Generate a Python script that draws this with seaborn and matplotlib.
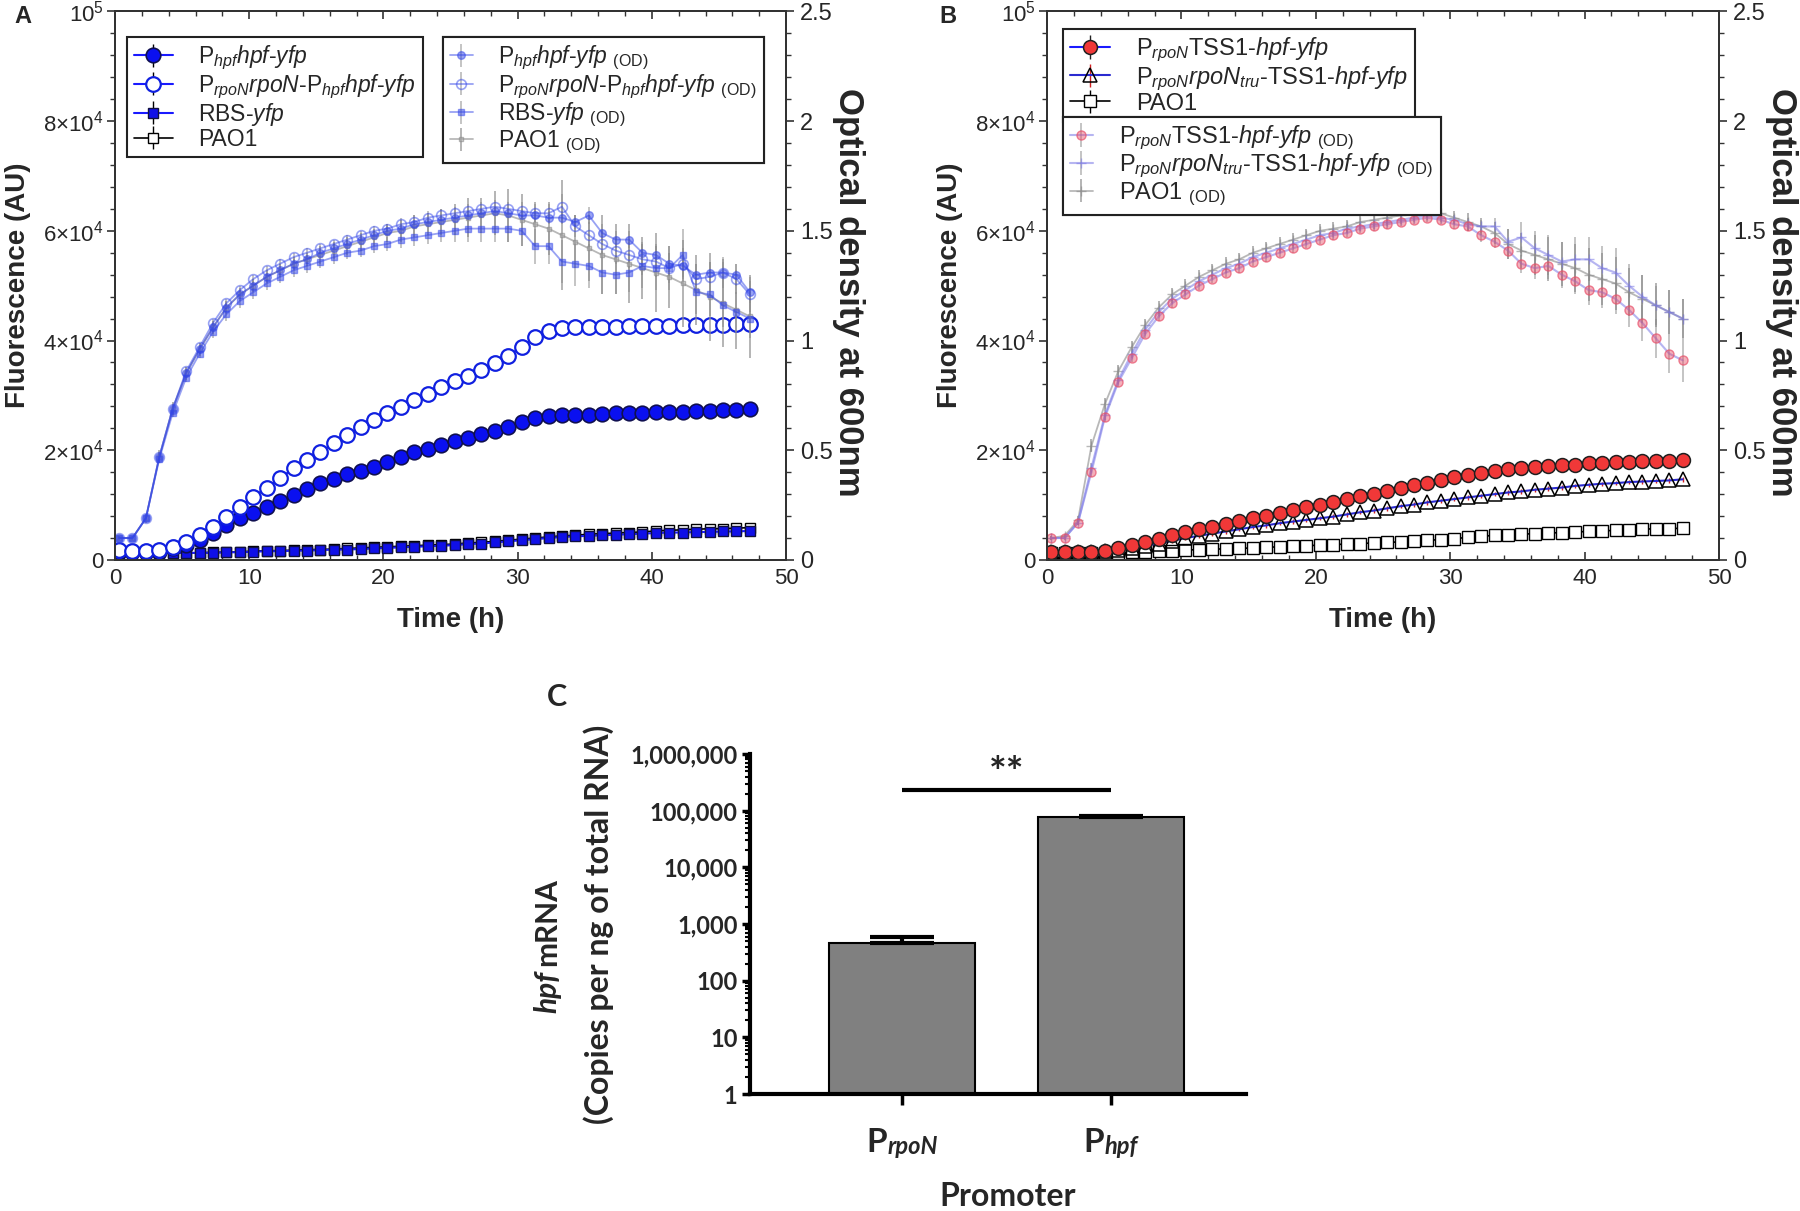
import numpy as np
import pandas as pd
import seaborn as sns
import matplotlib
matplotlib.use("Agg")
import matplotlib.pyplot as plt
from matplotlib.ticker import MultipleLocator, LogLocator, NullFormatter
from matplotlib.colors import to_rgba

# ---------------- data ----------------
TIME_H = np.arange(48) + 0.3

# panel A, fluorescence (AU)
A_HPF_FL = [1500, 1500, 1500, 1500, 2100, 2700, 3600, 4900, 6400, 7600, 8500, 9700, 10800, 11800,
            12900, 14000, 14700, 15700, 16300, 17000, 17900, 18700, 19600, 20200, 21000, 21600, 22200,
            23000, 23600, 24300, 25100, 25800, 26300, 26400, 26500, 26500, 26600, 26700, 26700, 26800,
            26900, 26900, 27000, 27100, 27200, 27300, 27400, 27500]
A_RPON_FL = [1800, 1700, 1700, 1800, 2300, 3300, 4600, 6100, 7900, 9700, 11500, 13200, 14900, 16700,
             18200, 19700, 21300, 22800, 24300, 25500, 26700, 27900, 29200, 30300, 31500, 32600, 33600,
             34700, 35900, 37200, 38900, 40600, 41800, 42200, 42400, 42400, 42500, 42500, 42600, 42600,
             42700, 42700, 42800, 42800, 42900, 42900, 43000, 43000]
A_RBS_FL = [1300, 1300, 1300, 1300, 1300, 1300, 1300, 1300, 1400, 1400, 1500, 1600, 1600, 1700, 1700,
            1800, 1900, 1900, 2000, 2100, 2200, 2300, 2400, 2500, 2600, 2700, 2900, 3000, 3200, 3400,
            3600, 3800, 4000, 4200, 4300, 4400, 4500, 4600, 4700, 4800, 4900, 5000, 5000, 5100, 5100,
            5200, 5200, 5300]
A_PAO1_FL = [1300, 1300, 1300, 1300, 1300, 1300, 1300, 1400, 1400, 1500, 1600, 1700, 1700, 1800, 1900,
             1900, 2000, 2100, 2200, 2300, 2400, 2500, 2600, 2700, 2800, 2900, 3100, 3200, 3400, 3600,
             3800, 4000, 4200, 4400, 4500, 4700, 4800, 4900, 5000, 5100, 5300, 5400, 5500, 5600, 5700,
             5700, 5800, 5900]

# panel A, optical density
A_HPF_OD = [0.10, 0.10, 0.19, 0.47, 0.69, 0.85, 0.96, 1.06, 1.15, 1.21, 1.25, 1.29, 1.32, 1.35, 1.37,
            1.40, 1.42, 1.44, 1.46, 1.48, 1.50, 1.51, 1.53, 1.54, 1.55, 1.56, 1.57, 1.58, 1.59, 1.58,
            1.57, 1.57, 1.56, 1.56, 1.54, 1.57, 1.49, 1.46, 1.46, 1.40, 1.39, 1.35, 1.34, 1.30, 1.31,
            1.31, 1.30, 1.22]
A_RPON_OD = [0.10, 0.10, 0.19, 0.47, 0.69, 0.86, 0.97, 1.08, 1.17, 1.23, 1.28, 1.32, 1.35, 1.38, 1.40,
             1.42, 1.44, 1.46, 1.48, 1.50, 1.51, 1.53, 1.54, 1.56, 1.57, 1.58, 1.59, 1.60, 1.61, 1.60,
             1.59, 1.58, 1.58, 1.61, 1.52, 1.48, 1.44, 1.41, 1.39, 1.37, 1.36, 1.33, 1.35, 1.28, 1.29,
             1.31, 1.28, 1.21]
A_RBS_OD = [0.10, 0.10, 0.19, 0.46, 0.67, 0.83, 0.94, 1.04, 1.12, 1.18, 1.22, 1.26, 1.29, 1.32, 1.34,
            1.36, 1.38, 1.40, 1.41, 1.43, 1.44, 1.46, 1.47, 1.48, 1.49, 1.50, 1.51, 1.51, 1.51, 1.51,
            1.50, 1.43, 1.43, 1.36, 1.35, 1.34, 1.31, 1.30, 1.31, 1.34, 1.33, 1.33, 1.39, 1.22, 1.21,
            1.16, 1.13, 1.10]
A_PAO1_OD = [0.10, 0.10, 0.19, 0.47, 0.69, 0.85, 0.96, 1.06, 1.15, 1.21, 1.25, 1.29, 1.32, 1.35, 1.37,
             1.39, 1.41, 1.43, 1.45, 1.47, 1.49, 1.50, 1.52, 1.53, 1.54, 1.55, 1.56, 1.57, 1.58, 1.57,
             1.55, 1.53, 1.51, 1.48, 1.45, 1.42, 1.39, 1.37, 1.35, 1.33, 1.31, 1.29, 1.26, 1.23, 1.20,
             1.17, 1.14, 1.11]
A_HPF_OD_ERR = [0.01, 0.01, 0.01, 0.02, 0.02, 0.02, 0.02, 0.02, 0.02, 0.02, 0.02, 0.02, 0.02, 0.02,
                0.02, 0.02, 0.02, 0.02, 0.02, 0.02, 0.02, 0.02, 0.02, 0.02, 0.02, 0.02, 0.02, 0.02,
                0.02, 0.02, 0.03, 0.03, 0.03, 0.03, 0.03, 0.04, 0.04, 0.04, 0.04, 0.05, 0.05, 0.05,
                0.05, 0.05, 0.05, 0.05, 0.05, 0.05]
A_RPON_OD_ERR = [0.01, 0.01, 0.01, 0.02, 0.02, 0.02, 0.02, 0.02, 0.02, 0.02, 0.02, 0.02, 0.02, 0.02,
                 0.02, 0.02, 0.02, 0.02, 0.02, 0.02, 0.02, 0.03, 0.03, 0.03, 0.03, 0.03, 0.03, 0.03,
                 0.03, 0.03, 0.04, 0.04, 0.04, 0.06, 0.05, 0.06, 0.06, 0.06, 0.06, 0.07, 0.07, 0.07,
                 0.07, 0.07, 0.07, 0.07, 0.07, 0.08]
A_RBS_OD_ERR = [0.01, 0.01, 0.01, 0.02, 0.02, 0.02, 0.02, 0.03, 0.03, 0.03, 0.03, 0.03, 0.03, 0.03,
                0.03, 0.03, 0.03, 0.03, 0.03, 0.03, 0.03, 0.04, 0.04, 0.04, 0.04, 0.05, 0.06, 0.06,
                0.06, 0.06, 0.07, 0.08, 0.08, 0.10, 0.10, 0.10, 0.10, 0.09, 0.09, 0.10, 0.10, 0.10,
                0.12, 0.10, 0.10, 0.10, 0.09, 0.09]
A_PAO1_OD_ERR = [0.01, 0.01, 0.02, 0.03, 0.03, 0.03, 0.03, 0.03, 0.03, 0.03, 0.03, 0.03, 0.03, 0.03,
                 0.03, 0.04, 0.04, 0.04, 0.04, 0.04, 0.04, 0.05, 0.05, 0.05, 0.06, 0.07, 0.09, 0.08,
                 0.10, 0.12, 0.12, 0.10, 0.12, 0.25, 0.12, 0.15, 0.18, 0.16, 0.18, 0.14, 0.18, 0.14,
                 0.20, 0.16, 0.20, 0.20, 0.18, 0.19]

# panel B, fluorescence (AU)
B_TSS1_FL = [1500, 1500, 1500, 1500, 1700, 2200, 2800, 3300, 3900, 4500, 5100, 5600, 6100, 6600, 7100,
             7600, 8100, 8600, 9100, 9600, 10100, 10600, 11100, 11600, 12100, 12600, 13100, 13600,
             14100, 14600, 15100, 15500, 15900, 16200, 16500, 16700, 16900, 17100, 17300, 17400, 17600,
             17700, 17800, 17900, 18000, 18100, 18100, 18200]
B_TRU_FL = [1500, 1500, 1500, 1500, 1600, 1900, 2200, 2600, 3000, 3500, 4000, 4400, 4800, 5200, 5600,
            6000, 6300, 6700, 7000, 7300, 7600, 7900, 8300, 8700, 9000, 9400, 9800, 10100, 10500, 10800,
            11100, 11400, 11700, 12000, 12300, 12500, 12800, 13000, 13200, 13500, 13700, 13900, 14000,
            14200, 14300, 14400, 14500, 14700]
B_PAO1_FL = [1300, 1300, 1300, 1300, 1300, 1300, 1400, 1500, 1600, 1700, 1800, 1900, 2000, 2000, 2100,
             2200, 2300, 2400, 2500, 2600, 2700, 2800, 2900, 3000, 3100, 3200, 3300, 3500, 3600, 3700,
             3900, 4100, 4300, 4500, 4600, 4700, 4800, 4900, 5000, 5100, 5200, 5300, 5400, 5500, 5600,
             5700, 5700, 5800]

# panel B, optical density
B_TSS1_OD = [0.10, 0.10, 0.17, 0.40, 0.65, 0.81, 0.92, 1.03, 1.11, 1.17, 1.21, 1.25, 1.28, 1.31, 1.33,
             1.36, 1.38, 1.40, 1.42, 1.44, 1.46, 1.48, 1.49, 1.51, 1.52, 1.53, 1.54, 1.55, 1.56, 1.55,
             1.53, 1.52, 1.48, 1.45, 1.41, 1.35, 1.33, 1.34, 1.30, 1.27, 1.23, 1.22, 1.19, 1.14, 1.08,
             1.01, 0.94, 0.91]
B_TRU_OD = [0.10, 0.10, 0.17, 0.42, 0.66, 0.82, 0.94, 1.05, 1.13, 1.19, 1.23, 1.27, 1.30, 1.33, 1.35,
            1.38, 1.40, 1.42, 1.44, 1.46, 1.48, 1.49, 1.51, 1.52, 1.53, 1.54, 1.55, 1.56, 1.57, 1.56,
            1.55, 1.53, 1.52, 1.52, 1.45, 1.47, 1.42, 1.39, 1.36, 1.37, 1.37, 1.33, 1.31, 1.25, 1.20,
            1.16, 1.13, 1.10]
B_PAO1_OD = [0.10, 0.11, 0.18, 0.52, 0.71, 0.86, 0.97, 1.07, 1.15, 1.21, 1.25, 1.29, 1.32, 1.35, 1.37,
             1.40, 1.42, 1.44, 1.46, 1.48, 1.50, 1.51, 1.52, 1.54, 1.55, 1.56, 1.57, 1.58, 1.59, 1.58,
             1.56, 1.54, 1.52, 1.49, 1.44, 1.41, 1.39, 1.37, 1.35, 1.33, 1.30, 1.28, 1.26, 1.22, 1.19,
             1.16, 1.13, 1.10]
B_TSS1_OD_ERR = [0.01, 0.01, 0.01, 0.02, 0.02, 0.02, 0.02, 0.02, 0.02, 0.02, 0.02, 0.02, 0.02, 0.02,
                 0.02, 0.02, 0.02, 0.02, 0.02, 0.02, 0.02, 0.02, 0.02, 0.02, 0.02, 0.02, 0.02, 0.02,
                 0.02, 0.02, 0.02, 0.02, 0.03, 0.03, 0.04, 0.04, 0.05, 0.06, 0.06, 0.06, 0.07, 0.07,
                 0.07, 0.08, 0.08, 0.09, 0.09, 0.10]
B_TRU_OD_ERR = [0.01, 0.01, 0.01, 0.02, 0.02, 0.02, 0.02, 0.02, 0.02, 0.02, 0.02, 0.02, 0.02, 0.02,
                0.02, 0.02, 0.02, 0.02, 0.02, 0.02, 0.02, 0.02, 0.02, 0.02, 0.02, 0.02, 0.02, 0.02,
                0.02, 0.02, 0.02, 0.03, 0.03, 0.04, 0.06, 0.07, 0.08, 0.09, 0.09, 0.10, 0.10, 0.10,
                0.11, 0.10, 0.10, 0.09, 0.10, 0.09]
B_PAO1_OD_ERR = [0.01, 0.01, 0.02, 0.03, 0.03, 0.03, 0.03, 0.03, 0.03, 0.03, 0.03, 0.03, 0.03, 0.03,
                 0.03, 0.03, 0.03, 0.03, 0.03, 0.03, 0.03, 0.03, 0.03, 0.03, 0.03, 0.03, 0.03, 0.03,
                 0.03, 0.03, 0.03, 0.04, 0.04, 0.05, 0.07, 0.08, 0.09, 0.10, 0.10, 0.11, 0.12, 0.12,
                 0.12, 0.11, 0.11, 0.10, 0.10, 0.09]
FL_SEM = 400

# panel C
PROMOTERS = ["PrpoN", "Phpf"]
PROMOTER_SUBS = ["rpoN", "hpf"]
MRNA_COPIES = [460, 78000]
MRNA_SEM = [120, 4000]
C_TICKS = [1, 10, 100, 1000, 10000, 100000, 1000000]
C_TICK_LABELS = ["1", "10", "100", "1,000", "10,000", "100,000", "1,000,000"]
SIG_LEVEL = 2.3e5

FL_TICKS = [0, 20000, 40000, 60000, 80000, 100000]
FL_TICK_LABELS = ["0", "2×10$^{4}$", "4×10$^{4}$", "6×10$^{4}$", "8×10$^{4}$", "10$^{5}$"]
OD_TICKS = [0, 0.5, 1, 1.5, 2, 2.5]
OD_TICK_LABELS = ["0", "0.5", "1", "1.5", "2", "2.5"]

OD = r" $_{\mathrm{(OD)}}$"
A_FL_LABELS = [r"P$_{hpf}hpf$-$yfp$", r"P$_{rpoN}rpoN$-P$_{hpf}hpf$-$yfp$", r"RBS-$yfp$", "PAO1"]
A_OD_LABELS = [lab + OD for lab in A_FL_LABELS]
B_FL_LABELS = [r"P$_{rpoN}$TSS1-$hpf$-$yfp$", r"P$_{rpoN}rpoN_{tru}$-TSS1-$hpf$-$yfp$", "PAO1"]
B_OD_LABELS = [lab + OD for lab in B_FL_LABELS]

# ---------------- style ----------------
sns.set_theme(style="white")
plt.rcParams["font.family"] = ["Liberation Sans", "DejaVu Sans"]
plt.rcParams["mathtext.fontset"] = "custom"
plt.rcParams["mathtext.rm"] = "Liberation Sans"
plt.rcParams["mathtext.it"] = "Liberation Sans:italic"
plt.rcParams["mathtext.bf"] = "Liberation Sans:bold"

BLUE = "#1a1aff"
GREY_ERR = "#8c8c8c"
C_FONT = dict(fontfamily="Lato", fontweight="bold")


def style_growth(ax, ax2):
    ax.set_xlim(0, 50)
    ax.set_ylim(0, 1e5)
    ax2.set_ylim(0, 2.5)
    ax.xaxis.set_major_locator(MultipleLocator(10))
    ax.xaxis.set_minor_locator(MultipleLocator(2))
    ax.set_yticks(FL_TICKS, FL_TICK_LABELS)
    ax.yaxis.set_minor_locator(MultipleLocator(4000))
    ax2.set_yticks(OD_TICKS, OD_TICK_LABELS)
    ax2.yaxis.set_minor_locator(MultipleLocator(0.1))
    ax.tick_params(axis="x", which="both", direction="in", top=True, bottom=True, labelsize=16,
                   pad=6, color="#333333")
    ax.tick_params(axis="x", which="major", length=6, width=1.2)
    ax.tick_params(axis="x", which="minor", length=3.5, width=1)
    ax.tick_params(axis="y", which="both", direction="out", left=True, right=False, labelsize=16,
                   pad=2, color="#333333")
    ax.tick_params(axis="y", which="major", length=6, width=1.2)
    ax.tick_params(axis="y", which="minor", length=3.5, width=1)
    ax2.tick_params(axis="y", which="both", direction="out", right=True, labelsize=17, pad=4,
                    color="#333333")
    ax2.tick_params(axis="y", which="major", length=6, width=1.2)
    ax2.tick_params(axis="y", which="minor", length=3.5, width=1)
    for a in (ax, ax2):
        for s in a.spines.values():
            s.set_visible(True)
            s.set_linewidth(1.4)
            s.set_color("#333333")
    ax.set_xlabel("Time (h)", fontsize=20, fontweight="bold")
    ax.xaxis.set_label_coords(0.5, -0.085)
    ax.set_ylabel("Fluorescence (AU)", fontsize=20, fontweight="bold")
    ax.yaxis.set_label_coords(-0.125, 0.5)
    ax2.set_ylabel("Optical density at 600nm", fontsize=25, fontweight="bold", rotation=270,
                   va="bottom")
    ax2.yaxis.set_label_coords(1.068, 0.487)


def add_legend(ax_host, ax_ref, handles, labels, anchor, size, handle_len):
    leg = ax_host.legend(handles, labels, loc="upper left", bbox_to_anchor=anchor,
                         bbox_transform=ax_ref.transAxes, fontsize=size, frameon=True,
                         fancybox=False, framealpha=1, edgecolor="#222222", borderaxespad=0,
                         labelspacing=0.0, handlelength=handle_len, handletextpad=1.1,
                         borderpad=0.3)
    leg.get_frame().set_linewidth(1.5)
    ax_host.add_artist(leg)
    return leg


fig = plt.figure(figsize=(18, 12.11), dpi=100)
axA = fig.add_axes([0.0639, 0.5376, 0.3728, 0.453])
axA2 = axA.twinx()
axB = fig.add_axes([0.5817, 0.5376, 0.3733, 0.453])
axB2 = axB.twinx()
axC = fig.add_axes([0.4167, 0.0966, 0.2756, 0.2808])

# ---------------- panel A ----------------
od_blue = to_rgba("#3346e8", 0.5)
a_pao1 = axA.errorbar(TIME_H, A_PAO1_FL, yerr=FL_SEM, fmt="-s", color="black", mfc="white",
                      mec="black", ms=6.5, mew=1, lw=1.2, ecolor="black", elinewidth=1, zorder=3)
a_rbs = axA.errorbar(TIME_H, A_RBS_FL, yerr=FL_SEM, fmt="-s", color=BLUE, mfc="#1010e8",
                     mec="#101040", ms=6.5, mew=1, lw=1.5, ecolor="black", elinewidth=1, zorder=4)
a_hpf = axA.errorbar(TIME_H, A_HPF_FL, yerr=FL_SEM, fmt="-o", color=BLUE, mfc="#0a10f0",
                     mec="#101050", ms=10.5, mew=1.2, lw=1.5, ecolor="black", elinewidth=1, zorder=5)
a_rpon = axA.errorbar(TIME_H, A_RPON_FL, yerr=FL_SEM, fmt="-o", color=BLUE, mfc="white",
                      mec="#1020e0", ms=10.5, mew=1.6, lw=1.5, ecolor="black", elinewidth=1, zorder=6)

o_pao1 = axA2.errorbar(TIME_H, A_PAO1_OD, yerr=A_PAO1_OD_ERR, fmt="-s", color=to_rgba("#8a8a8a", 0.6),
                       mfc=to_rgba("#b0b0b0", 0.5), mec=to_rgba("#8a8a8a", 0.6), ms=3.5, lw=1.3,
                       ecolor=to_rgba(GREY_ERR, 0.7), elinewidth=1.3)
o_rbs = axA2.errorbar(TIME_H, A_RBS_OD, yerr=A_RBS_OD_ERR, fmt="-s", color=od_blue, mfc=od_blue,
                      mec=od_blue, ms=4, lw=1.3, ecolor=to_rgba(GREY_ERR, 0.6), elinewidth=1.2)
o_hpf = axA2.errorbar(TIME_H, A_HPF_OD, yerr=A_HPF_OD_ERR, fmt="-o", color=od_blue, mfc=od_blue,
                      mec=od_blue, ms=5.5, lw=1.3, ecolor=to_rgba(GREY_ERR, 0.6), elinewidth=1.2)
o_rpon = axA2.errorbar(TIME_H, A_RPON_OD, yerr=A_RPON_OD_ERR, fmt="-o", color=od_blue, mfc="none",
                       mec=od_blue, ms=7, mew=1.2, lw=1.3, ecolor=to_rgba(GREY_ERR, 0.6), elinewidth=1.2)

style_growth(axA, axA2)
add_legend(axA2, axA, [a_hpf, a_rpon, a_rbs, a_pao1], A_FL_LABELS, (0.018, 0.9535), 16.5, 1.7)
add_legend(axA2, axA, [o_hpf, o_rpon, o_rbs, o_pao1], A_OD_LABELS, (0.489, 0.9535), 16.5, 1.0)

# ---------------- panel B ----------------
od_red = to_rgba("#e8506a", 0.45)
od_lav = to_rgba("#7a78e6", 0.55)
b_pao1 = axB.errorbar(TIME_H, B_PAO1_FL, yerr=FL_SEM, fmt="-s", color="black", mfc="white",
                      mec="black", ms=8, mew=1, lw=1.2, ecolor="black", elinewidth=1, zorder=3)
b_tru = axB.errorbar(TIME_H, B_TRU_FL, yerr=FL_SEM, fmt="-^", color="#2a2ad0", mfc="none",
                     mec="black", ms=10, mew=1.1, lw=1.5, ecolor="#d02020", elinewidth=1, zorder=4)
b_tss1 = axB.errorbar(TIME_H, B_TSS1_FL, yerr=FL_SEM, fmt="-o", color=BLUE, mfc="#f03838",
                      mec="#202020", ms=10, mew=1.1, lw=1.5, ecolor="#202020", elinewidth=1, zorder=5)

q_pao1 = axB2.errorbar(TIME_H, B_PAO1_OD, yerr=B_PAO1_OD_ERR, fmt="-+", color=to_rgba("#8a8a8a", 0.6),
                       mec=to_rgba("#8a8a8a", 0.6), ms=7, lw=1.3, ecolor=to_rgba(GREY_ERR, 0.7),
                       elinewidth=1.3)
q_tru = axB2.errorbar(TIME_H, B_TRU_OD, yerr=B_TRU_OD_ERR, fmt="-+", color=od_lav, mec=od_lav, ms=7,
                      lw=1.5, ecolor=to_rgba(GREY_ERR, 0.6), elinewidth=1.2)
q_tss1 = axB2.errorbar(TIME_H, B_TSS1_OD, yerr=B_TSS1_OD_ERR, fmt="-o", color=od_lav, mfc=od_red,
                       mec=to_rgba("#e8506a", 0.7), ms=6.5, mew=1, lw=1.5,
                       ecolor=to_rgba(GREY_ERR, 0.6), elinewidth=1.2)

style_growth(axB, axB2)
add_legend(axB2, axB, [b_tss1, b_tru, b_pao1], B_FL_LABELS, (0.023, 0.9684), 17, 1.7)
add_legend(axB2, axB, [q_tss1, q_tru, q_pao1], B_OD_LABELS, (0.023, 0.8083), 17, 1.0)

# ---------------- panel C ----------------
dfC = pd.DataFrame({"promoter": PROMOTERS, "copies": MRNA_COPIES})
sns.barplot(data=dfC, x="promoter", y="copies", ax=axC, color="#808080", saturation=1, width=0.7,
            edgecolor="black", linewidth=1.5, errorbar=None)
axC.set_yscale("log")
axC.errorbar(range(len(PROMOTERS)), MRNA_COPIES, yerr=[[0] * len(MRNA_SEM), MRNA_SEM], fmt="none",
             ecolor="black", elinewidth=3, capsize=23, capthick=3, zorder=5)
axC.set_ylim(1, 1e6)
axC.set_xlim(-0.73, 1.65)
axC.set_yticks(C_TICKS)
axC.set_yticklabels(C_TICK_LABELS, fontsize=17, **C_FONT)
axC.yaxis.set_minor_locator(LogLocator(base=10, subs=np.arange(2, 10), numticks=20))
axC.yaxis.set_minor_formatter(NullFormatter())
axC.set_xticks(range(len(PROMOTERS)))
axC.set_xticklabels([""] * len(PROMOTERS))
axC.tick_params(axis="y", which="major", direction="out", left=True, length=6, width=2.5, pad=3,
                color="black")
axC.tick_params(axis="y", which="minor", direction="out", left=True, length=3.5, width=1.5,
                color="black")
axC.tick_params(axis="x", which="major", direction="out", bottom=True, length=8, width=2.5,
                color="black")
for side in ("top", "right"):
    axC.spines[side].set_visible(False)
for side in ("left", "bottom"):
    axC.spines[side].set_linewidth(3)
    axC.spines[side].set_color("black")
axC.set_ylabel("")
axC.set_xlabel("Promoter", fontsize=23, **C_FONT)
axC.xaxis.set_label_coords(0.52, -0.26)

# y label: "hpf mRNA" / "(Copies per ng of total RNA)"
axC.text(-0.409, 0.362, "hpf", transform=axC.transAxes, rotation=90, rotation_mode="anchor",
         ha="right", va="center", fontsize=21.5, fontstyle="italic", **C_FONT)
axC.text(-0.409, 0.377, "mRNA", transform=axC.transAxes, rotation=90, rotation_mode="anchor",
         ha="left", va="center", fontsize=21.5, **C_FONT)
axC.text(-0.306, 0.4985, "(Copies per ng of total RNA)", transform=axC.transAxes, rotation=90,
         rotation_mode="anchor", ha="center", va="center", fontsize=23, **C_FONT)

# category labels P with italic subscript
fig.canvas.draw()
renderer = fig.canvas.get_renderer()
for i, sub in enumerate(PROMOTER_SUBS):
    big = axC.annotate("P", xy=(i, 0), xycoords=axC.get_xaxis_transform(), xytext=(0, -41.5),
                       textcoords="offset points", ha="left", va="baseline", fontsize=24, **C_FONT)
    small = axC.annotate(sub, xy=(i, 0), xycoords=axC.get_xaxis_transform(), xytext=(0, -43),
                         textcoords="offset points", ha="left", va="baseline", fontsize=17,
                         fontstyle="italic", **C_FONT)
    w_big = big.get_window_extent(renderer).width * 72 / fig.dpi
    w_small = small.get_window_extent(renderer).width * 72 / fig.dpi
    start = -(w_big + w_small) / 2
    big.set_position((start, -41.5))
    small.set_position((start + w_big, -43))

# significance bar
axC.plot(range(len(PROMOTERS)), [SIG_LEVEL] * len(PROMOTERS), color="black", lw=3,
         solid_capstyle="butt")
axC.text(0.5, 4.2e5, "**", ha="center", va="center", fontsize=30, **C_FONT)

# panel letters
fig.text(0.0078, 0.986, "A", fontsize=17, fontweight="bold", va="center")
fig.text(0.5217, 0.986, "B", fontsize=17, fontweight="bold", va="center")
fig.text(0.304, 0.4245, "C", fontsize=22, va="center", **C_FONT)

fig.savefig("out.png", dpi=100)
